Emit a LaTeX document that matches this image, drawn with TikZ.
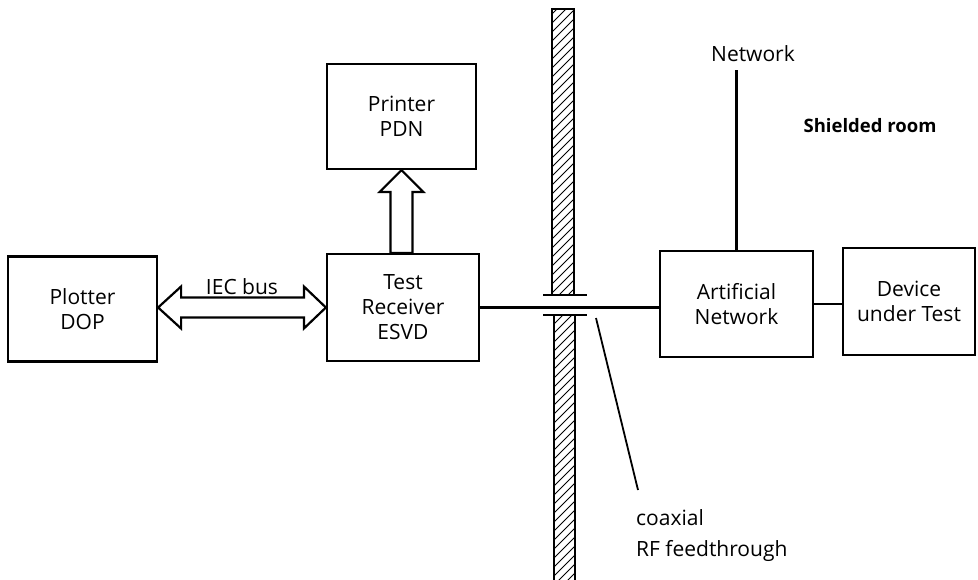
\documentclass[tikz,border=0pt]{standalone}
\usepackage{fontspec}
\setmainfont{Open Sans}
\usetikzlibrary{calc}
\newcommand{\lblfont}{\fontsize{21bp}{25bp}\selectfont}
\newcommand{\boldlblfont}{\fontsize{18.5bp}{22bp}\selectfont\bfseries}
\begin{document}
\begin{tikzpicture}[x=1bp,y=-1bp,
  box/.style={draw, line width=2.2bp, inner sep=0pt, align=center, font=\lblfont},
  lbl/.style={inner sep=0pt, font=\lblfont},
  bus/.style={draw, fill=white, line width=2.2bp, line join=miter},
  wire/.style={line width=2.2bp},
  flange/.style={line width=2.6bp},
  hatch/.style={line width=0.9bp}]
\useasboundingbox (0,0) rectangle (978,580);

% boxes
\node[box, minimum width=149bp, minimum height=105bp] (plot) at (82.5,309) {Plotter\\DOP};
\node[box, minimum width=152bp, minimum height=107bp] (rec) at (403,307.5) {Test\\Receiver\\ESVD};
\node[box, minimum width=149bp, minimum height=105bp] (pr) at (401.5,116.5) {Printer\\PDN};
\node[box, minimum width=153bp, minimum height=106bp] (an) at (736.5,304) {Artificial\\Network};
\node[box, minimum width=132bp, minimum height=107bp] (dut) at (909,301.5) {Device\\under Test};

% IEC bus double arrow
\draw[bus] (plot.east |- rec.west) -- ++(23,-21) -- ++(0,11)
  -- ($(rec.west)+(-22,-10)$) -- ++(0,-11) -- (rec.west) -- ++(-22,21) -- ++(0,-11)
  -- ($(plot.east |- rec.west)+(23,10)$) -- ++(0,11) -- cycle;
\node[lbl, anchor=base] (iec) at (242,294) {IEC bus};

% printer arrow
\draw[bus] (pr.south) -- ++(22,22) -- ++(-11,0) -- ($(pr.south |- rec.north)+(11,0)$)
  -- ++(-22,0) -- ($(pr.south)+(-11,22)$) -- ++(-11,0) -- cycle;

% shielded wall
\begin{scope}
  \clip (552,9) rectangle (574,295);
  \foreach \y in {0,9,...,330} \draw[hatch] (548,\y) -- (578,\y-30);
\end{scope}
\begin{scope}
  \clip (554,315) rectangle (575,590);
  \foreach \y in {310,319,...,640} \draw[hatch] (550,\y) -- (580,\y-30);
\end{scope}
\draw[line width=2.2bp] (552,295) -- (552,9) -- (574,9) -- (574,295);
\draw[line width=2.2bp] (554,590) -- (554,315) (575,315) -- (575,590);
\coordinate (fu1) at (543,295); \coordinate (fu2) at (587,295);
\coordinate (fl1) at (543,315); \coordinate (fl2) at (587,315);
\draw[flange] (fu1) -- (fu2);
\draw[flange] (fl1) -- (fl2);

% cables
\draw[wire] (rec.east) -- (rec.east -| an.west);
\draw[wire] (an.east) -- (an.east -| dut.west);
\coordinate (netend) at (736.5,70);
\draw[wire] (an.north) -- (netend);
\node[lbl, anchor=base] (net) at (753,62) {Network};
\node[inner sep=0pt, font=\boldlblfont, anchor=base] (room) at (870,133) {Shielded room};

% feedthrough pointer
\coordinate (pt1) at (596,318);
\coordinate (pt2) at (638,490);
\draw[line width=1.8bp] (pt1) -- (pt2);
\node[lbl, align=left, anchor=north west, font=\fontsize{21bp}{31bp}\selectfont] (coax) at (636,509) {coaxial\\RF feedthrough};
\end{tikzpicture}
\end{document}
